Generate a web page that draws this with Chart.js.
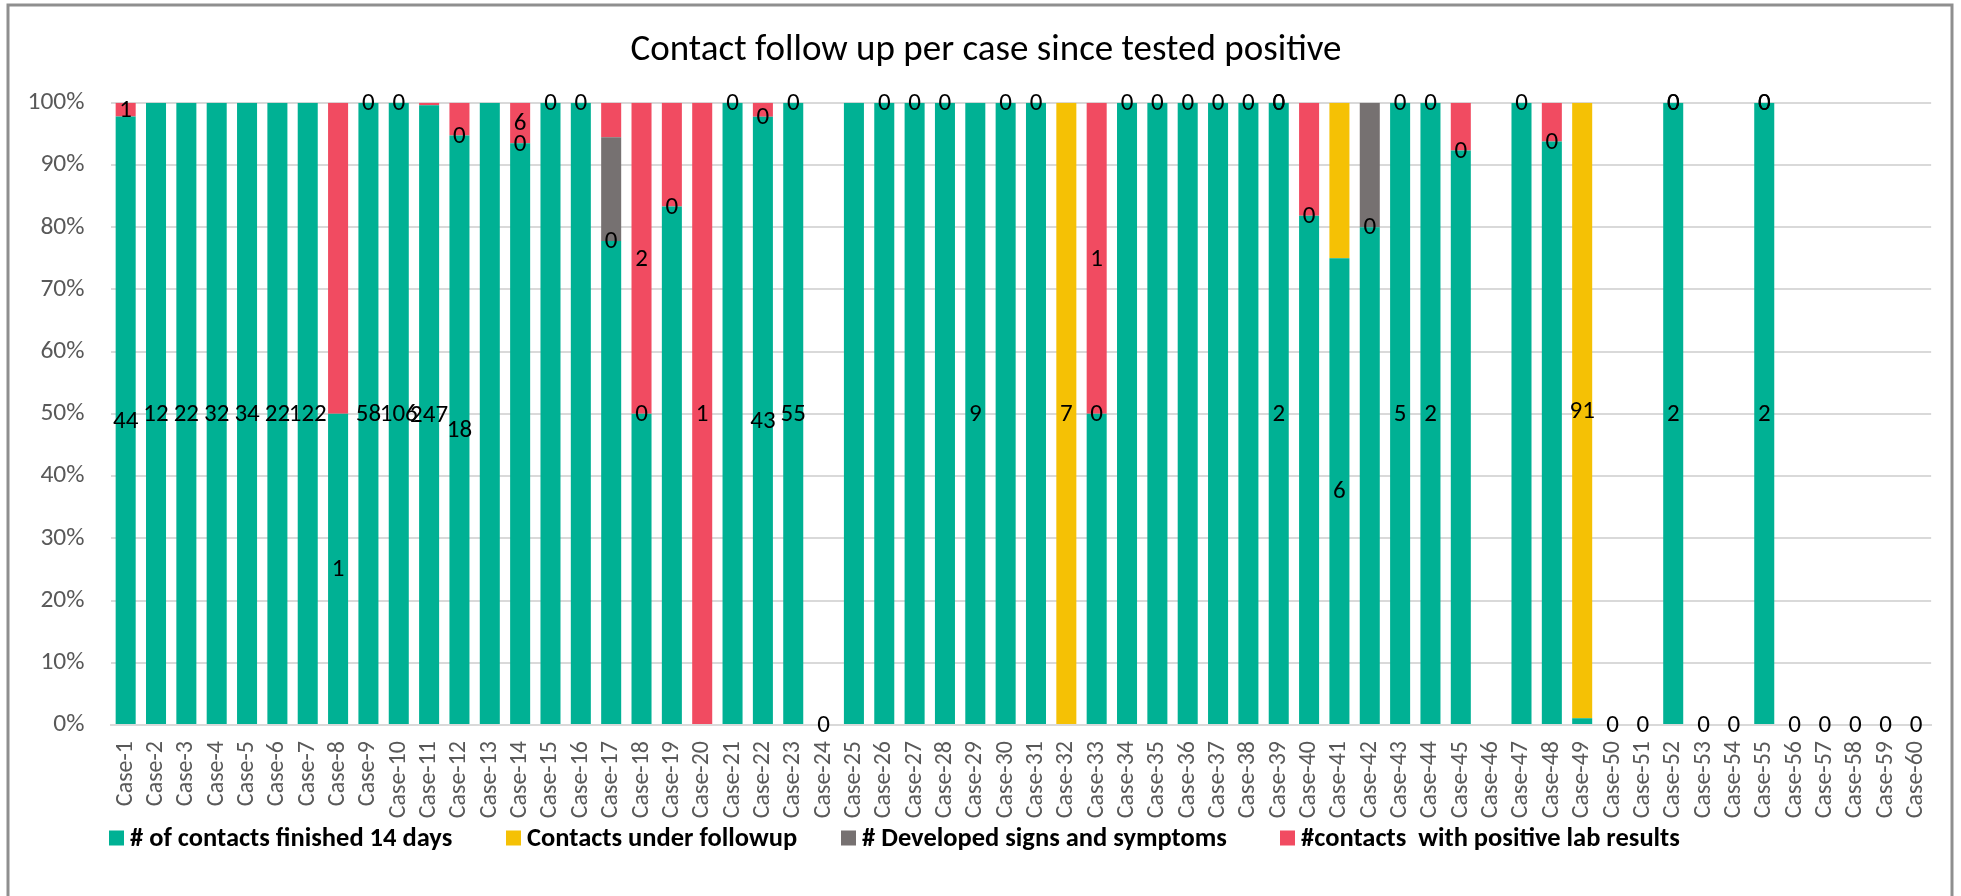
<!DOCTYPE html>
<html>
<head>
<meta charset="utf-8">
<script src="https://cdn.jsdelivr.net/npm/chart.js@4/dist/chart.umd.min.js"></script>
<style>
html,body{margin:0;padding:0;background:#fff;}
canvas{display:block;}
</style>
</head>
<body>
<canvas id="c" width="1961" height="896"></canvas>
<script>
// ---------- DATA ----------
const categories = [];
for (let i = 1; i <= 60; i++) categories.push('Case-' + i);

const seriesNames = [
  '# of contacts finished 14 days',
  'Contacts under followup',
  '# Developed signs and symptoms',
  '#contacts  with positive lab results'
];

const N = null;
// Case-1 ... Case-60
const finished = [
  44, 12, 22, 32, 34, 22, 122, 1, 58, 106,
  247, 18, 10, 86, 6, 4, 14, 2, 5, N,
  8, 43, 55, 0, 3, 5, 4, 6, 9, 3,
  2, N, 1, 5, 3, 4, 6, 2, 2, 9,
  6, 4, 5, 2, 12, N, 3, 15, 1, 0,
  0, 2, 0, 0, 2, 0, 0, 0, 0, 0
];
const underFollowup = [
  N, N, N, N, N, N, N, N, N, N,
  N, 0, N, 0, N, N, 0, 0, 0, N,
  N, 0, N, N, N, N, N, N, N, N,
  N, 7, 0, N, N, N, N, N, N, 0,
  2, 0, N, N, 0, N, N, 0, 91, N,
  N, N, N, N, N, N, N, N, N, N
];
const developed = [
  N, N, N, N, N, N, N, N, N, N,
  N, N, N, N, N, N, 3, N, N, N,
  N, N, N, N, N, N, N, N, N, N,
  N, N, N, N, N, N, N, N, 0, N,
  N, 1, N, N, N, N, N, N, N, N,
  N, 0, N, N, 0, N, N, N, N, N
];
const positiveLab = [
  1, N, N, N, N, N, N, 1, 0, 0,
  1, 1, N, 6, 0, 0, 1, 2, 1, 1,
  0, 1, 0, N, N, 0, 0, 0, N, 0,
  0, N, 1, 0, 0, 0, 0, 0, 0, 2,
  N, N, 0, 0, 1, N, 0, 1, N, N,
  N, 0, N, N, 0, N, N, N, N, N
];

// Case numbers whose value label is not shown in the original
const hiddenLabels = [
  [13,14,15,16,17,18,19,21,25,26,27,28,30,31,33,34,35,36,37,38,40,42,45,47,48,49],
  [41],
  [17,42],
  [8,11,12,17,19,22,40,45,48]
];

const yTicks = [0,10,20,30,40,50,60,70,80,90,100];

const colors = ['#00B194', '#F5C105', '#767171', '#F14B61'];

// ---------- FONT ----------
const FAMILY = 'Carlito, Lato, "Open Sans", sans-serif';

// ---------- BUILD ----------
const raw = [finished, underFollowup, developed, positiveLab];
const totals = categories.map((_, j) => raw.reduce((s, arr) => s + (arr[j] == null ? 0 : arr[j]), 0));
const pct = arr => arr.map((v, j) => v == null ? null : (totals[j] ? v / totals[j] * 100 : 0));

const datasets = raw.map((arr, i) => ({
  label: seriesNames[i],
  data: pct(arr),
  backgroundColor: colors[i],
  borderWidth: 0,
  barPercentage: 0.66,
  categoryPercentage: 1.0
}));

const valueLabels = {
  id: 'valueLabels',
  afterDatasetsDraw(chart){
    const ctx = chart.ctx;
    ctx.save();
    ctx.font = '25px ' + FAMILY;
    ctx.fillStyle = '#000';
    ctx.textAlign = 'center';
    ctx.textBaseline = 'middle';
    raw.forEach((arr, i) => {
      const meta = chart.getDatasetMeta(i);
      meta.data.forEach((el, j) => {
        const v = arr[j];
        if (v == null) return;
        if (hiddenLabels[i].includes(j + 1)) return;
        const y = (el.y + el.base) / 2;
        ctx.fillText(String(v), el.x, y + 1);
      });
    });
    ctx.restore();
  }
};

const legendX = [109, 506, 841, 1280];
const customLegend = {
  id: 'customLegend',
  afterDraw(chart){
    const ctx = chart.ctx;
    ctx.save();
    ctx.font = 'bold 26.5px ' + FAMILY;
    ctx.textAlign = 'left';
    ctx.textBaseline = 'middle';
    const yc = 838;
    chart.data.datasets.forEach((ds, i) => {
      ctx.fillStyle = ds.backgroundColor;
      ctx.fillRect(legendX[i], yc - 7.5, 15, 15);
      ctx.fillStyle = '#000';
      ctx.fillText(ds.label, legendX[i] + 21, yc + 1);
    });
    ctx.restore();
  }
};

const frame = {
  id: 'frame',
  beforeDraw(chart){
    const ctx = chart.ctx;
    ctx.save();
    ctx.fillStyle = '#fff';
    ctx.fillRect(0, 0, chart.width, chart.height);
    ctx.strokeStyle = '#8f8f8f';
    ctx.lineWidth = 3;
    ctx.strokeRect(8, 5, 1944, 1000);
    ctx.restore();
  }
};

// Shift the title's box so that its centre sits where the original title is centred
const titleShift = {
  id: 'titleShift',
  afterLayout(chart){
    if (chart.titleBlock) chart.titleBlock.left = 39;
  }
};

new Chart(document.getElementById('c'), {
  type: 'bar',
  data: { labels: categories, datasets },
  options: {
    responsive: false,
    animation: false,
    layout: { padding: { left: 0, right: 28, top: 0, bottom: 71 } },
    plugins: {
      legend: { display: false },
      tooltip: { enabled: false },
      title: {
        display: true,
        text: 'Contact follow up per case since tested positive',
        color: '#000',
        font: { family: FAMILY, size: 37, weight: 'normal', lineHeight: 1.2 },
        padding: { top: 28.5, bottom: 29.8 }
      }
    },
    scales: {
      x: {
        stacked: true,
        grid: { display: false, drawTicks: false },
        border: { display: true, color: '#d9d9d9', width: 2 },
        ticks: {
          color: '#595959',
          font: { family: FAMILY, size: 24 },
          minRotation: 90, maxRotation: 90,
          autoSkip: false,
          padding: 16
        },
        afterFit(s){ s.height = 100; }
      },
      y: {
        stacked: true,
        min: 0, max: 100,
        afterBuildTicks(s){ s.ticks = yTicks.map(v => ({ value: v })); },
        grid: { color: '#d9d9d9', lineWidth: 2, drawTicks: false },
        border: { display: false },
        ticks: {
          color: '#595959',
          font: { family: FAMILY, size: 25.5 },
          padding: 26,
          callback: v => v + '%'
        },
        afterFit(s){ s.width = 110.5; }
      }
    }
  },
  plugins: [frame, titleShift, valueLabels, customLegend]
});
</script>
</body>
</html>
